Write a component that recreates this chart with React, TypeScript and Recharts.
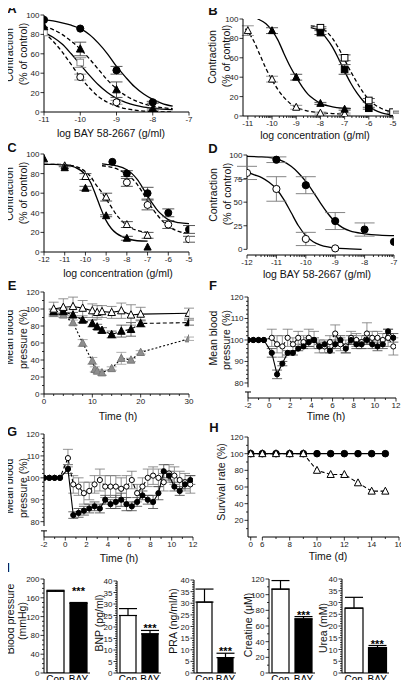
import React from 'react';
import {
  ComposedChart,
  BarChart,
  Bar,
  Cell,
  Line,
  Scatter,
  XAxis,
  YAxis,
  ErrorBar,
  ReferenceDot,
  ReferenceLine,
} from 'recharts';

const FONT = '"Liberation Sans", Arial, Helvetica, sans-serif';

// ---------- A: log BAY 58-2667 ----------
const aDose = [-11, -10, -9, -8];
const aCircle = [95, 86, 43, 10];
const aCircleErr = [0, 0, 4, 1];
const aTri = [88, 65, 23, 3];
const aTriErr = [0, 7, 8, 1];
const aSquareDose = [-11, -10];
const aSquare = [82, 51];
const aSquareErr = [0, 5];
const aOpenDose = [-10, -9, -8];
const aOpen = [36, 10, 1];
const aOpenErr = [3, 2, 0];

const aFitDose = [-11, -10.75, -10.5, -10.25, -10, -9.75, -9.5, -9.25, -9, -8.75, -8.5, -8.25, -8, -7.75, -7.45];
const aFitCircle = [95, 94, 92, 89.5, 86, 80, 71, 60, 47, 36, 26, 18.5, 13, 9, 6];
const aFitTri = [88, 85, 80, 73, 65, 55, 44, 33, 24, 17, 12, 8.5, 6, 4.5, 3.5];
const aFitSquare = [82, 77, 70, 60, 49, 38, 28, 20, 14, 10, 7, 5, 4, 3, 2.5];
const aFitOpen = [82, 73, 62, 49, 36, 25, 16, 10, 6, 3.5, 2, 1, 0.5, 0.2, 0];

// ---------- B: log concentration ----------
const bTriDose = [-10, -9, -8, -7];
const bTri = [88, 40, 13, 7];
const bTriErr = [3, 3, 1, 1];
const bOpenTriDose = [-11, -10, -9, -8, -7];
const bOpenTri = [88, 38, 9, 3, 2];
const bOpenTriErr = [5, 3, 2, 1, 1];
const bSqDose = [-8, -7, -6];
const bSq = [86, 48, 8];
const bSqErr = [2, 5, 1];
const bOpenSqDose = [-8, -7, -6, -5];
const bOpenSq = [91, 60, 16, 4];
const bOpenSqErr = [1, 3, 2, 1];

const bFitTriDose = [-10.6, -10.5, -10.25, -10, -9.75, -9.5, -9.25, -9, -8.75, -8.5, -8.25, -8, -7.5, -7, -6.75];
const bFitTri = [100, 99, 95, 88, 78, 64, 51, 40, 30, 22, 17, 13, 9.5, 8, 7.5];
const bFitOpenTriDose = [-11.1, -11, -10.75, -10.5, -10.25, -10, -9.75, -9.5, -9.25, -9, -8.5, -8, -7.5, -7];
const bFitOpenTri = [90, 87, 77, 63, 49, 37, 27, 19, 13, 9, 5, 3.5, 2.5, 2];
const bFitSqDose = [-8.4, -8, -7.75, -7.5, -7.25, -7, -6.75, -6.5, -6.25, -6, -5.75, -5.5, -5.25, -5];
const bFitSq = [91, 87, 80, 71, 59, 46, 34, 24, 16, 10, 6, 3.5, 2, 1];
const bFitOpenSq = [93, 91, 87, 80, 70, 58, 46, 35, 25, 17, 11.5, 8, 5.5, 4];

// ---------- C ----------
const cTriDose = [-12, -11, -10, -9, -8, -7];
const cTri = [95, 86, 65, 37, 14, 5];
const cTriErr = [0, 0, 2, 1, 2, 0];
const cOpenTriDose = [-11, -10, -9, -8, -7];
const cOpenTri = [88, 77, 56, 28, 17];
const cOpenTriErr = [1, 3, 4, 3, 3];
const cCircDose = [-8.7, -8, -7, -6, -5];
const cCirc = [92, 80, 60, 40, 23];
const cCircErr = [0, 3, 6, 4, 4];
const cOpenCircDose = [-8, -7, -6, -5];
const cOpenCirc = [71, 48, 28, 13];
const cOpenCircErr = [4, 5, 4, 3];

const cFitTriDose = [-12, -11.5, -11, -10.5, -10, -9.75, -9.5, -9.25, -9, -8.75, -8.5, -8.25, -8, -7.5, -7];
const cFitTri = [89.5, 89.5, 89, 86.5, 79, 71, 58, 44, 32, 24, 19, 16, 14, 11.5, 11];
const cFitOpenTri = [89.5, 89.5, 89, 87.5, 82, 77, 69, 62, 54, 46, 38, 32, 27, 22, 20];
const cFitCircDose = [-9.2, -9, -8.5, -8, -7.75, -7.5, -7.25, -7, -6.75, -6.5, -6.25, -6, -5.5, -5];
const cFitCirc = [90, 89.5, 88, 84, 80, 74, 66, 57, 49, 42, 37, 33, 30, 29];
const cFitOpenCirc = [88, 87.5, 85, 79, 75, 69, 61, 52, 44, 37, 31, 26.5, 21, 19];

// ---------- D ----------
const dCircDose = [-11, -10, -9, -8, -7];
const dCirc = [95, 68, 30, 21, 8];
const dCircErr = [3, 9, 9, 7, 0];
const dOpenDose = [-12, -11, -10, -9];
const dOpen = [81, 64, 11, 1];
const dOpenErr = [7, 13, 7, 0];

const dFitDose = [-12, -11.5, -11, -10.75, -10.5, -10.25, -10, -9.75, -9.5, -9.25, -9, -8.75, -8.5, -8, -7.5, -7];
const dFitCirc = [98.5, 98, 96, 93, 88, 81, 72, 61, 49, 38, 29, 23, 19.5, 16.5, 15, 14.5];
const dFitOpenDose = [-12, -11.75, -11.5, -11.25, -11, -10.75, -10.5, -10.25, -10, -9.75, -9.5, -9.25, -9, -8.5, -8.1];
const dFitOpen = [82, 79, 76, 71, 64, 53, 39, 25, 14.5, 8, 4.5, 2.5, 1.3, 0.5, 0];

// ---------- E ----------
const eTime = [2, 4, 6, 8, 10, 11, 12, 14, 16, 18, 20, 30];
const eOpen = [100, 102, 103, 101, 98, 96, 97, 96, 98, 93, 94, 95];
const eOpenErr = [8, 10, 11, 9, 8, 8, 7, 7, 9, 12, 8, 6];
const eFilled = [97, 97, 93, 87, 83, 79, 75, 70, 74, 76, 83, 84];
const eFilledErr = [3, 3, 3, 3, 4, 3, 3, 4, 7, 8, 4, 3];
const eGrayTime = [2, 4, 6, 8, 10, 10.5, 11, 12, 14, 16, 18, 20, 30];
const eGray = [95, 93, 84, 60, 39, 29, 27, 25, 30, 42, 40, 49, 65];
const eGrayErr = [4, 3, 3, 4, 4, 3, 2, 3, 2, 7, 2, 2, 2];

// ---------- F / G ----------
const hTime = [-2, -1.5, -1, -0.5, 0.25, 0.75, 1.25, 1.75, 2.25, 2.75, 3.25, 3.75, 4.25, 4.75, 5.25, 5.75, 6.25, 6.75, 7.25, 7.75, 8.25, 8.75, 9.25, 9.75, 10.25, 10.75, 11.25, 11.75];
const fFilled = [100, 100, 100, 100, 94, 84, 89, 94, 94, 96, 97, 99, 100, 97, 98, 95, 98, 100, 96, 100, 98, 98, 100, 98, 97, 98, 104, 101];
const fFilledErr = [0, 0, 0, 0, 2, 2, 1, 1, 1, 1, 1, 2, 1, 1, 1, 1, 2, 2, 2, 2, 2, 2, 2, 2, 2, 2, 1, 2];
const fOpen = [100, 100, 100, 100, 101, 98, 97, 101, 98, 101, 99, 101, 100, 97, 97, 99, 103, 98, 97, 101, 100, 99, 103, 101, 101, 100, 101, 97];
const fOpenErr = [0, 0, 0, 0, 4, 4, 5, 4, 3, 3, 3, 4, 4, 3, 3, 3, 4, 3, 3, 3, 3, 3, 5, 3, 3, 3, 4, 4];
const gFilled = [100, 100, 100, 100, 104, 83, 84, 85, 86, 87, 86, 90, 88, 89, 90, 88, 87, 89, 92, 90, 89, 93, 103, 101, 96, 94, 97, 99];
const gFilledErr = [0, 0, 0, 0, 2, 1.5, 2, 2, 2, 2, 2, 2, 2, 3, 3, 3, 2, 2, 2, 2, 3, 3, 3, 2, 2, 2, 2, 2];
const gOpen = [100, 100, 100, 100, 109, 97, 96, 93, 94, 97, 99, 96, 96, 96, 95, 96, 99, 93, 96, 100, 101, 100, 98, 102, 101, 99, 98, 97];
const gOpenErr = [0, 0, 0, 0, 4, 4, 4, 5, 4, 4, 5, 5, 5, 5, 5, 5, 4, 4, 4, 4, 4, 4, 4, 4, 4, 4, 4, 4];

// ---------- H ----------
const hDays = [0, 6, 7, 8, 9, 10, 11, 12, 13, 14, 15];
const hCon = [100, 100, 100, 100, 100, 100, 100, 100, 100, 100, 100];
const hBay = [100, 100, 100, 100, 100, 80, 75, 75, 65, 55, 55];

// ---------- I ----------
const barGroups = ['Con', 'BAY'];
const bpVals = [174, 148];
const bpErr = [2, 2];
const bnpVals = [25, 17];
const bnpErr = [3, 1.5];
const praVals = [30.5, 6.6];
const praErr = [5.6, 1.9];
const creaVals = [107, 69];
const creaErr = [11, 3];
const ureaVals = [27.6, 10.8];
const ureaErr = [4.6, 0.9];

// ---------- tick labels ----------
const pctTicks = [0, 20, 40, 60, 80, 100];
const aXTicks = [-11, -10, -9, -8, -7];
const bXTicks = [-11, -10, -9, -8, -7, -6, -5];
const cXTicks = [-12, -11, -10, -9, -8, -7, -6, -5];
const dXTicks = [-12, -11, -10, -9, -8, -7];
const dYTicks = [0, 25, 50, 75, 100];
const eXTicks = [0, 10, 20, 30];
const eYTicks = [0, 20, 40, 60, 80, 100, 120];
const hrTicks = [-2, 0, 2, 4, 6, 8, 10, 12];
const mbpTicks = [80, 90, 100, 110, 120];
const dayTicks = [0, 6, 8, 10, 12, 14, 16];
const survTicks = [20, 40, 60, 80, 100, 120];
const bpTicks = [0, 40, 80, 120, 160, 200];
const fortyTicks = [0, 5, 10, 15, 20, 25, 30, 35, 40];
const creaTicks = [0, 20, 40, 60, 80, 100, 120];

// ---------- helpers ----------
type P = { x: number; y: number; e?: number };
const zip = (xs: number[], ys: number[], es?: number[]): P[] =>
  xs.map((x, i) => ({ x, y: ys[i], e: es ? es[i] : 0 }));

const near = (a: number, b: number) => Math.abs(a - b) < 1e-6;
const minor = (a: number, b: number, s: number, majors: number[]) => {
  const out: number[] = [];
  for (let v = a; v <= b + 1e-9; v += s) {
    const r = +v.toFixed(4);
    if (!majors.some((m) => near(m, r))) out.push(r);
  }
  return out;
};
const logMinor = (lo: number, hi: number) => {
  const out: number[] = [];
  for (let d = lo; d < hi; d++) for (let k = 2; k <= 9; k++) out.push(d + Math.log10(k));
  return out;
};
// day axis is broken between 0 and 6
const DAY0 = 5.15;
const brk = (d: number) => (d === 0 ? DAY0 : d);
const dayFmt = (v: number) => (near(v, DAY0) ? '0' : String(v));

const DASH = '4 2.5';
const DOT = '2 2';
const AX = { stroke: '#000', strokeWidth: 1 };
const YW = 30;
const RM = 10;
const TM = 6;
const XH = 22;

type MK = 'fc' | 'oc' | 'ft' | 'ot' | 'gt' | 'fs' | 'os' | 'gs';
const MARKS: Record<MK, { shape: string; fill: string; stroke: string }> = {
  fc: { shape: 'c', fill: '#000', stroke: '#000' },
  oc: { shape: 'c', fill: '#fff', stroke: '#000' },
  ft: { shape: 't', fill: '#000', stroke: '#000' },
  ot: { shape: 't', fill: '#fff', stroke: '#000' },
  gt: { shape: 't', fill: '#8e8e8e', stroke: '#7a7a7a' },
  fs: { shape: 's', fill: '#000', stroke: '#000' },
  os: { shape: 's', fill: '#fff', stroke: '#000' },
  gs: { shape: 's', fill: '#fff', stroke: '#8a8a8a' },
};

function Marker({ cx, cy, k, s }: { cx?: number; cy?: number; k: MK; s: number }) {
  if (cx == null || cy == null) return null;
  const m = MARKS[k];
  if (m.shape === 'c') {
    return <circle cx={cx} cy={cy} r={s} fill={m.fill} stroke={m.stroke} strokeWidth={1} />;
  }
  if (m.shape === 's') {
    return <rect x={cx - s} y={cy - s} width={2 * s} height={2 * s} fill={m.fill} stroke={m.stroke} strokeWidth={1} />;
  }
  const h = s * 1.1;
  return (
    <polygon
      points={`${cx},${cy - h} ${cx + s},${cy + h * 0.75} ${cx - s},${cy + h * 0.75}`}
      fill={m.fill}
      stroke={m.stroke}
      strokeWidth={1}
    />
  );
}

function Tick(props: any) {
  const { x, y, payload, side, majors, fmt } = props;
  const v = payload.value as number;
  const major = majors.some((m: number) => near(m, v));
  const len = major ? 3.5 : 2;
  const label = fmt ? fmt(v) : String(v);
  if (side === 'y') {
    return (
      <g>
        <line x1={x - len} x2={x} y1={y} y2={y} stroke="#000" strokeWidth={0.8} />
        {major && (
          <text x={x - 4.5} y={y + 3} textAnchor="end" fontSize={8} fill="#222" fontFamily={FONT}>
            {label}
          </text>
        )}
      </g>
    );
  }
  return (
    <g>
      <line x1={x} x2={x} y1={y} y2={y + len} stroke="#000" strokeWidth={0.8} />
      {major && (
        <text x={x} y={y + 10} textAnchor="middle" fontSize={8} fill="#222" fontFamily={FONT}>
          {label}
        </text>
      )}
    </g>
  );
}

const fit = (d: P[], dash?: string) => (
  <Line
    data={d}
    dataKey="y"
    type="monotone"
    dot={false}
    activeDot={false}
    stroke="#000"
    strokeWidth={1.3}
    strokeDasharray={dash}
    isAnimationActive={false}
  />
);

const pts = (d: P[], k: MK, s: number, ec = '#444', cap = 6) => (
  <Scatter
    data={d}
    dataKey="y"
    isAnimationActive={false}
    shape={(p: any) => <Marker cx={p.cx} cy={p.cy} k={k} s={s} />}
  >
    <ErrorBar dataKey="e" direction="y" width={cap} stroke={ec} strokeWidth={0.9} />
  </Scatter>
);

const trace = (d: P[], k: MK, s: number, dash?: string, ec = '#444') => (
  <Line
    data={d}
    dataKey="y"
    type="linear"
    stroke="#000"
    strokeWidth={1.1}
    strokeDasharray={dash}
    isAnimationActive={false}
    activeDot={false}
    dot={(p: any) => <Marker key={`m${p.index}`} cx={p.cx} cy={p.cy} k={k} s={s} />}
  >
    <ErrorBar dataKey="e" direction="y" width={5} stroke={ec} strokeWidth={0.8} />
  </Line>
);

type FrameProps = {
  r: number[];
  xd: number[];
  yd: number[];
  xt: number[];
  xn?: number[];
  yt: number[];
  yn?: number[];
  xf?: (v: number) => string;
  ySegs?: number[][];
  yCap?: number;
  xSegs?: number[][];
  children?: React.ReactNode;
};

function Frame({ r, xd, yd, xt, xn = [], yt, yn = [], xf, ySegs, yCap, xSegs, children }: FrameProps) {
  const [x0, y0, x1, y1] = r;
  const xs = [...xt, ...xn].sort((a, b) => a - b);
  const ys = [...yt, ...yn].sort((a, b) => a - b);
  const capW = (3 * (xd[1] - xd[0])) / (x1 - x0);
  return (
    <div style={{ position: 'absolute', left: x0 - YW, top: y0 - TM }}>
      <ComposedChart
        width={x1 - x0 + YW + RM}
        height={y1 - y0 + TM + XH}
        margin={{ top: TM, right: RM, bottom: 0, left: 0 }}
      >
        <XAxis
          type="number"
          dataKey="x"
          domain={xd}
          allowDataOverflow
          ticks={xs}
          interval={0}
          height={XH}
          tickSize={0}
          tickMargin={0}
          tickLine={false}
          stroke="#000"
          axisLine={xSegs ? false : AX}
          tick={(p: any) => <Tick {...p} side="x" majors={xt} fmt={xf} />}
        />
        <YAxis
          type="number"
          dataKey="y"
          domain={yd}
          allowDataOverflow
          ticks={ys}
          interval={0}
          width={YW}
          tickSize={0}
          tickMargin={0}
          tickLine={false}
          stroke="#000"
          axisLine={ySegs ? false : AX}
          tick={(p: any) => <Tick {...p} side="y" majors={yt} />}
        />
        {ySegs &&
          ySegs.map((s, i) => (
            <ReferenceLine
              key={`ys${i}`}
              segment={[{ x: xd[0], y: s[0] }, { x: xd[0], y: s[1] }]}
              stroke="#000"
              strokeWidth={1}
              ifOverflow="visible"
            />
          ))}
        {yCap != null && (
          <ReferenceLine
            segment={[{ x: xd[0] - capW, y: yCap }, { x: xd[0] + capW, y: yCap }]}
            stroke="#000"
            strokeWidth={1}
            ifOverflow="visible"
          />
        )}
        {xSegs &&
          xSegs.map((s, i) => (
            <ReferenceLine
              key={`xs${i}`}
              segment={[{ x: s[0], y: yd[0] }, { x: s[1], y: yd[0] }]}
              stroke="#000"
              strokeWidth={1}
              ifOverflow="visible"
            />
          ))}
        {children}
      </ComposedChart>
    </div>
  );
}

type BarProps = {
  r: number[];
  ymax: number;
  yt: number[];
  yn: number[];
  vals: number[];
  errs: number[];
  bw: number;
  lift: number;
};

function BarPanel({ r, ymax, yt, yn, vals, errs, bw, lift }: BarProps) {
  const [x0, y0, x1, y1] = r;
  const data = barGroups.map((g, i) => ({ g, v: vals[i], e: [0, errs[i]] }));
  const ys = [...yt, ...yn].sort((a, b) => a - b);
  return (
    <div style={{ position: 'absolute', left: x0 - YW, top: y0 - TM }}>
      <BarChart
        data={data}
        width={x1 - x0 + YW + RM}
        height={y1 - y0 + TM + XH}
        margin={{ top: TM, right: RM, bottom: 0, left: 0 }}
        barSize={bw}
      >
        <XAxis
          dataKey="g"
          height={XH}
          tickSize={0}
          tickMargin={3}
          tickLine={false}
          stroke="#000"
          axisLine={AX}
          interval={0}
          tick={{ fontSize: 10, fill: '#000', fontFamily: FONT }}
        />
        <YAxis
          type="number"
          domain={[0, ymax]}
          allowDataOverflow
          ticks={ys}
          interval={0}
          width={YW}
          tickSize={0}
          tickMargin={0}
          tickLine={false}
          stroke="#000"
          axisLine={AX}
          tick={(p: any) => <Tick {...p} side="y" majors={yt} />}
        />
        <Bar dataKey="v" stroke="#000" strokeWidth={1.2} isAnimationActive={false}>
          {data.map((d, i) => (
            <Cell key={d.g} fill={i === 0 ? '#fff' : '#000'} />
          ))}
          <ErrorBar dataKey="e" direction="y" width={9} stroke="#000" strokeWidth={1.2} />
        </Bar>
        <ReferenceDot
          x="BAY"
          y={vals[1] + errs[1]}
          r={0}
          fill="none"
          stroke="none"
          label={{ value: '***', position: 'top', offset: lift, fontSize: 11, fontWeight: 700, fill: '#000', fontFamily: FONT }}
        />
      </BarChart>
    </div>
  );
}

function Txt({ x, y, v, size = 10.5, rot = false, bold = false }: { x: number; y: number; v: string; size?: number; rot?: boolean; bold?: boolean }) {
  return (
    <div
      style={{
        position: 'absolute',
        left: x,
        top: y,
        transform: `translate(-50%, -50%)${rot ? ' rotate(-90deg)' : ''}`,
        fontSize: size,
        fontWeight: bold ? 700 : 400,
        lineHeight: 1,
        whiteSpace: 'nowrap',
        color: '#111',
      }}
    >
      {v}
    </div>
  );
}

export default function App() {
  return (
    <div
      style={{
        position: 'relative',
        width: 409,
        height: 688,
        margin: -8,
        background: '#fff',
        overflow: 'hidden',
        fontFamily: FONT,
      }}
    >
      {/* A */}
      <Frame r={[44, 15, 189, 112]} xd={[-11, -7]} yd={[0, 100]} xt={aXTicks} yt={pctTicks}>
        {fit(zip(aFitDose, aFitSquare))}
        {fit(zip(aFitDose, aFitOpen), DASH)}
        {fit(zip(aFitDose, aFitTri), DASH)}
        {fit(zip(aFitDose, aFitCircle))}
        {pts(zip(aSquareDose, aSquare, aSquareErr), 'gs', 3.3, '#888')}
        {pts(zip(aOpenDose, aOpen, aOpenErr), 'oc', 3.5, '#888')}
        {pts(zip(aDose, aTri, aTriErr), 'ft', 3.8)}
        {pts(zip(aDose, aCircle, aCircleErr), 'fc', 3.6)}
      </Frame>

      {/* B */}
      <Frame r={[243, 19, 393, 116]} xd={[-11.2, -5]} yd={[0, 100]} xt={bXTicks} xn={logMinor(-11, -5)} yt={pctTicks}>
        {fit(zip(bFitOpenTriDose, bFitOpenTri), DASH)}
        {fit(zip(bFitTriDose, bFitTri))}
        {fit(zip(bFitSqDose, bFitOpenSq), DASH)}
        {fit(zip(bFitSqDose, bFitSq))}
        {pts(zip(bOpenTriDose, bOpenTri, bOpenTriErr), 'ot', 3.6, '#888')}
        {pts(zip(bTriDose, bTri, bTriErr), 'ft', 3.6)}
        {pts(zip(bOpenSqDose, bOpenSq, bOpenSqErr), 'os', 3.3)}
        {pts(zip(bSqDose, bSq, bSqErr), 'fs', 3.3)}
      </Frame>

      {/* C */}
      <Frame r={[44, 154, 189, 252]} xd={[-12, -5]} yd={[0, 100]} xt={cXTicks} yt={pctTicks}>
        {fit(zip(cFitTriDose, cFitOpenTri), DASH)}
        {fit(zip(cFitTriDose, cFitTri))}
        {fit(zip(cFitCircDose, cFitOpenCirc), DASH)}
        {fit(zip(cFitCircDose, cFitCirc))}
        {pts(zip(cOpenTriDose, cOpenTri, cOpenTriErr), 'ot', 3.6)}
        {pts(zip(cTriDose, cTri, cTriErr), 'ft', 3.6)}
        {pts(zip(cOpenCircDose, cOpenCirc, cOpenCircErr), 'oc', 3.5)}
        {pts(zip(cCircDose, cCirc, cCircErr), 'fc', 3.5)}
      </Frame>

      {/* D */}
      <Frame
        r={[247, 155, 394, 255]}
        xd={[-12, -7]}
        yd={[-6, 100]}
        xt={dXTicks}
        xn={logMinor(-12, -7)}
        yt={dYTicks}
        ySegs={[[0, 100]]}
      >
        {fit(zip(dFitOpenDose, dFitOpen))}
        {fit(zip(dFitDose, dFitCirc))}
        {pts(zip(dOpenDose, dOpen, dOpenErr), 'oc', 3.6, '#777', 10)}
        {pts(zip(dCircDose, dCirc, dCircErr), 'fc', 3.6, '#777', 10)}
      </Frame>

      {/* E */}
      <Frame
        r={[44, 292, 189, 394]}
        xd={[0, 30]}
        yd={[0, 120]}
        xt={eXTicks}
        xn={minor(0, 30, 2, eXTicks)}
        yt={eYTicks}
        yn={minor(0, 120, 10, eYTicks)}
      >
        {trace(zip(eGrayTime, eGray, eGrayErr), 'gt', 3.8, DOT, '#999')}
        {trace(zip(eTime, eFilled, eFilledErr), 'ft', 3.8, DASH)}
        {trace(zip(eTime, eOpen, eOpenErr), 'ot', 3.8, undefined, '#777')}
      </Frame>

      {/* F */}
      <Frame
        r={[248, 297, 396, 398]}
        xd={[-2, 12]}
        yd={[73, 120]}
        xt={hrTicks}
        xn={minor(-2, 12, 1, hrTicks)}
        yt={mbpTicks}
        yn={minor(80, 120, 2, mbpTicks)}
        ySegs={[[73, 75.8], [78, 120]]}
        yCap={75.8}
      >
        {trace(zip(hTime, fOpen, fOpenErr), 'oc', 2.6, DASH, '#777')}
        {trace(zip(hTime, fFilled, fFilledErr), 'fc', 2.6)}
      </Frame>

      {/* G */}
      <Frame
        r={[44, 434, 193, 537]}
        xd={[-2, 12]}
        yd={[73, 120]}
        xt={hrTicks}
        xn={minor(-2, 12, 1, hrTicks)}
        yt={mbpTicks}
        yn={minor(80, 120, 2, mbpTicks)}
        ySegs={[[73, 75.8], [78, 120]]}
        yCap={75.8}
      >
        {trace(zip(hTime, gOpen, gOpenErr), 'oc', 2.6, DASH, '#777')}
        {trace(zip(hTime, gFilled, gFilledErr), 'fc', 2.6)}
      </Frame>

      {/* H */}
      <Frame
        r={[248, 437, 399, 537]}
        xd={[4.95, 16]}
        yd={[0, 120]}
        xt={dayTicks.map(brk)}
        xn={[7, 9, 11, 13, 15]}
        xf={dayFmt}
        yt={survTicks}
        yn={[10, 30, 50, 70, 90, 110]}
        xSegs={[[4.95, 5.6], [6, 16]]}
      >
        {trace(zip(hDays.map(brk), hCon), 'fc', 3.3)}
        {trace(zip(hDays.map(brk), hBay), 'ot', 3.6, DASH)}
      </Frame>

      {/* I */}
      <BarPanel r={[44, 579, 90, 673]} ymax={200} yt={bpTicks} yn={minor(0, 200, 10, bpTicks)} vals={bpVals} errs={bpErr} bw={17} lift={8} />
      <BarPanel r={[117, 581, 161, 673]} ymax={40} yt={fortyTicks} yn={minor(0, 40, 1, fortyTicks)} vals={bnpVals} errs={bnpErr} bw={16} lift={-2} />
      <BarPanel r={[194, 580, 236, 673]} ymax={40} yt={fortyTicks} yn={minor(0, 40, 1, fortyTicks)} vals={praVals} errs={praErr} bw={15} lift={-2} />
      <BarPanel r={[269, 579, 315, 673]} ymax={120} yt={creaTicks} yn={minor(0, 120, 10, creaTicks)} vals={creaVals} errs={creaErr} bw={17} lift={-2} />
      <BarPanel r={[342, 579, 389, 673]} ymax={40} yt={fortyTicks} yn={minor(0, 40, 1, fortyTicks)} vals={ureaVals} errs={ureaErr} bw={18} lift={-2} />

      {/* panel letters */}
      <Txt x={12} y={8} v="A" size={13} bold />
      <Txt x={213} y={10} v="B" size={13} bold />
      <Txt x={12} y={147} v="C" size={13} bold />
      <Txt x={213} y={148} v="D" size={13} bold />
      <Txt x={12} y={285} v="E" size={13} bold />
      <Txt x={213} y={285} v="F" size={13} bold />
      <Txt x={12} y={431} v="G" size={13} bold />
      <Txt x={214} y={427} v="H" size={13} bold />
      <Txt x={8} y={567} v="I" size={13} bold />

      {/* axis titles */}
      <Txt x={111} y={133} v="log BAY 58-2667 (g/ml)" />
      <Txt x={315} y={134.5} v="log concentration (g/ml)" />
      <Txt x={118} y={273} v="log concentration (g/ml)" />
      <Txt x={317} y={273.5} v="log BAY 58-2667 (g/ml)" />
      <Txt x={118} y={415.5} v="Time (h)" />
      <Txt x={326} y={415.5} v="Time (h)" />
      <Txt x={119} y={557.5} v="Time (h)" />
      <Txt x={328} y={556} v="Time (d)" />

      <Txt x={9} y={55} v="Contraction" rot />
      <Txt x={22.5} y={54} v="(% of control)" rot />
      <Txt x={212} y={57} v="Contraction" rot />
      <Txt x={226} y={56} v="(% of control)" rot />
      <Txt x={9} y={194} v="Contraction" rot />
      <Txt x={22.5} y={193} v="(% of control)" rot />
      <Txt x={213} y={195} v="Contraction" rot />
      <Txt x={227} y={194} v="(% of control)" rot />
      <Txt x={9} y={337} v="Mean blood" rot />
      <Txt x={22.5} y={339} v="pressure (%)" rot />
      <Txt x={213} y={338} v="Mean blood" rot />
      <Txt x={226} y={340} v="pressure (%)" rot />
      <Txt x={9} y={486} v="Mean blood" rot />
      <Txt x={22.5} y={488} v="pressure (%)" rot />
      <Txt x={221} y={482} v="Survival rate (%)" rot />

      <Txt x={9.5} y={619} v="Blood pressure" rot />
      <Txt x={22} y={621} v="(mmHg)" rot />
      <Txt x={99} y={623} v="BNP (pg/ml)" rot />
      <Txt x={172.5} y={621} v="PRA (ng/ml/h)" rot />
      <Txt x={247.5} y={625} v="Creatine (μM)" rot />
      <Txt x={323} y={628} v="Urea (mM)" rot />
    </div>
  );
}
